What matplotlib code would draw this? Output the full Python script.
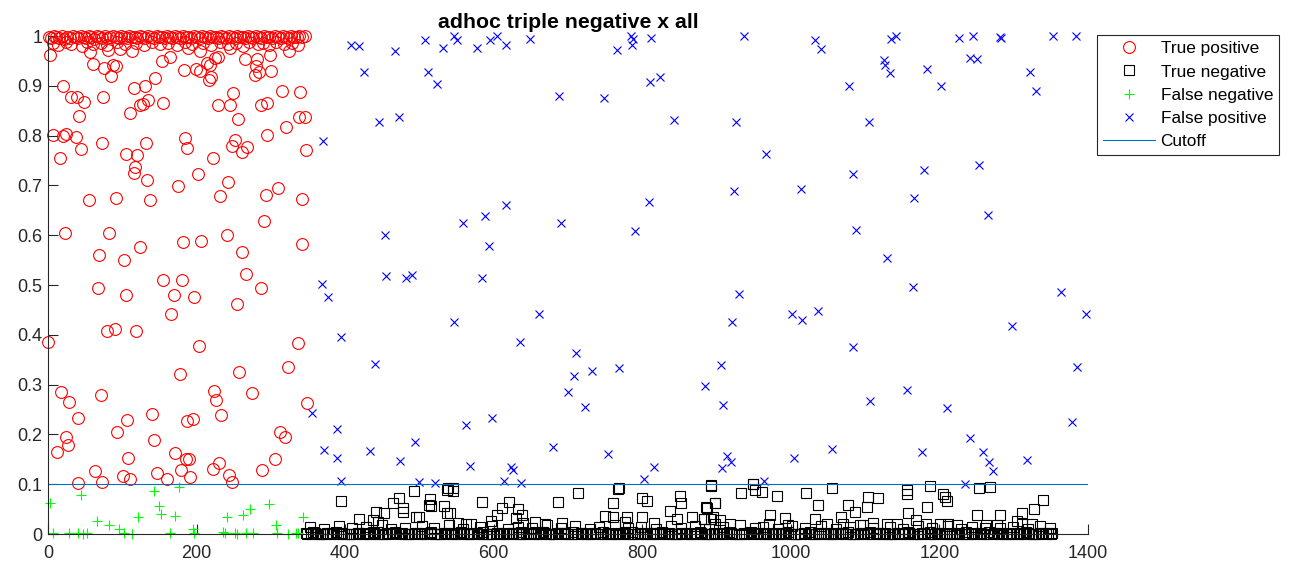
import matplotlib
matplotlib.use("Agg")
import matplotlib.pyplot as plt

plt.rcParams['font.family'] = ['Liberation Sans', 'DejaVu Sans']

# True positive (red circles): scattered ones
tp_x = [2.7, 20.6, 7, 20.6, 24, 37.7, 16, 45, 30.5, 38.6, 48.5, 42, 61, 56.5, 75.4, 84.8, 88, 91,
        74.5, 73, 81, 97, 112.6, 110, 115.8, 130.6, 144, 124, 128, 135, 155, 105, 119.4, 117, 116,
        132, 133.7, 153, 164, 175.4, 184.4, 186.7, 183, 199, 204.6, 202, 189, 204.6, 213.6, 218,
        217, 220, 225, 229, 221.7, 231.5, 228.4, 245, 249.5, 256, 245, 247, 251.7, 260.7, 268,
        242.7, 265, 281, 280, 284.5, 278.6, 299, 300, 294.4, 286, 295, 310, 314.6, 320, 325, 339,
        338, 346, 347, 293, 341.5,
        55.6, 91, 137, 22.9, 82.5, 240.5, 291, 181, 206, 341.5, 68.6, 102.7, 124, 261, 266.5,
        154.4, 180, 67.7, 286, 104.6, 170, 196.5, 254, 165, 79, 90, 118.5, 0.4, 203.7, 337,
        177.7, 257.5, 322.6, 17, 28.7, 71.3, 224, 226, 274, 349, 40.8, 139.6, 106, 186.7, 194.7,
        232.9, 93.3, 24.2, 26.5, 11.7, 142.7, 312, 319, 108, 171, 185.8, 189.8, 230, 221.7, 305.6,
        63, 146.3, 179, 100.5, 110.4, 40.8, 72.3, 160.6, 191, 243.6, 248, 288.5]
tp_y = [0.962, 0.900, 0.801, 0.800, 0.803, 0.797, 0.756, 0.773, 0.878, 0.878, 0.867, 0.839, 0.944,
        0.967, 0.936, 0.920, 0.942, 0.940, 0.877, 0.786, 0.972, 0.974, 0.969, 0.845, 0.896, 0.900,
        0.915, 0.861, 0.863, 0.871, 0.866, 0.764, 0.762, 0.737, 0.725, 0.786, 0.711, 0.949, 0.958,
        0.699, 0.795, 0.776, 0.932, 0.933, 0.930, 0.722, 0.975, 0.969, 0.945, 0.942, 0.912, 0.918,
        0.955, 0.958, 0.756, 0.679, 0.861, 0.861, 0.885, 0.833, 0.975, 0.779, 0.791, 0.768, 0.778,
        0.706, 0.953, 0.953, 0.940, 0.928, 0.922, 0.962, 0.930, 0.801, 0.861, 0.866, 0.694, 0.890,
        0.817, 0.969, 0.888, 0.838, 0.838, 0.772, 0.681, 0.673,
        0.671, 0.674, 0.671, 0.604, 0.605, 0.600, 0.628, 0.587, 0.588, 0.582, 0.560, 0.550, 0.576,
        0.566, 0.522, 0.511, 0.510, 0.495, 0.495, 0.480, 0.479, 0.476, 0.462, 0.442, 0.408, 0.411,
        0.408, 0.385, 0.378, 0.383,
        0.321, 0.326, 0.335, 0.285, 0.266, 0.279, 0.287, 0.269, 0.284, 0.264, 0.232, 0.241, 0.228,
        0.227, 0.230, 0.239, 0.205, 0.194, 0.179, 0.165, 0.189, 0.205, 0.194, 0.152, 0.162, 0.150,
        0.151, 0.142, 0.131, 0.151, 0.127, 0.122, 0.129, 0.116, 0.110, 0.102, 0.105, 0.110, 0.114,
        0.118, 0.105, 0.128]

# True positive: the packed row near 1
tp_top_x = [1, 4, 8, 11, 15, 19, 22, 26, 29, 33, 37, 40, 44, 48, 51, 55, 58, 62, 66, 69, 73, 77,
            80, 84, 88, 91, 95, 98, 102, 106, 109, 113, 117, 120, 124, 127, 131, 135, 138, 142,
            146, 149, 153, 157, 160, 164, 167, 171, 175, 178, 182, 186, 189, 193, 196, 200, 204,
            207, 211, 215, 218, 222, 226, 229, 233, 236, 240, 244, 247, 251, 255, 258, 262, 265,
            269, 273, 276, 280, 284, 287, 291, 295, 298, 302, 305, 309, 313, 316, 320, 324, 327,
            331, 335, 338, 342, 346,
            6, 13, 24, 31, 46, 53, 60, 71, 79, 93, 104, 118, 129, 140, 151, 162, 173, 184, 194,
            209, 220, 231, 242, 253, 263, 271, 282, 289, 297, 307, 318, 329, 336]
tp_top_y = [0.999, 0.996, 1.0, 0.998, 0.997, 1.0, 0.995, 0.999, 0.997, 1.0, 0.998, 0.996, 1.0,
            0.999, 0.997, 1.0, 0.998, 0.995, 1.0, 0.999, 0.997, 1.0, 0.996, 0.999, 1.0, 0.998,
            0.997, 1.0, 0.999, 0.996, 1.0, 0.998, 0.999, 0.997, 1.0, 0.998, 0.996, 1.0, 0.999,
            0.997, 1.0, 0.998, 0.999, 0.996, 1.0, 0.998, 0.997, 1.0, 0.999, 0.996, 1.0, 0.998,
            0.999, 0.997, 1.0, 0.998, 0.996, 1.0, 0.999, 0.997, 1.0, 0.998, 0.999, 0.996, 1.0,
            0.998, 0.997, 1.0, 0.999, 0.996, 1.0, 0.998, 0.999, 0.997, 1.0, 0.998, 0.996, 1.0,
            0.999, 0.997, 1.0, 0.998, 0.999, 0.996, 1.0, 0.998, 0.997, 1.0, 0.999, 0.996, 1.0,
            0.998, 0.999, 1.0, 0.999, 1.0,
            0.986, 0.982, 0.988, 0.984, 0.980, 0.987, 0.983, 0.985, 0.981, 0.988, 0.984, 0.986,
            0.982, 0.987, 0.983, 0.985, 0.981, 0.988, 0.984, 0.986, 0.982, 0.987, 0.983, 0.985,
            0.980, 0.988, 0.984, 0.986, 0.982, 0.987, 0.983, 0.985, 0.981]

# False negative (green plus)
fn_x = [2.7, 44, 142.7, 176, 150, 152, 171, 120.7, 65.5, 82.6, 96, 195.6, 240.5, 263, 272, 297.5,
        306.5, 343.7, 7.2, 28.7, 40.8, 47.5, 52.9, 102.7, 112.6, 164.2, 197, 235, 238.3, 251.7,
        254, 266.5, 275.5, 307.8, 322.6, 333.4, 336]
fn_y = [0.063, 0.078, 0.086, 0.094, 0.057, 0.040, 0.037, 0.035, 0.026, 0.018, 0.011, 0.011,
        0.035, 0.038, 0.050, 0.060, 0.019, 0.035, 0.002, 0.003, 0.002, 0.001, 0.003, 0.002,
        0.001, 0.003, 0.002, 0.004, 0.002, 0.003, 0.001, 0.002, 0.003, 0.002, 0.001, 0.003, 0.002]

# False positive (blue x)
fp_x = [408, 418, 467, 507.5, 531, 547, 550, 578, 595, 604, 616.5, 649, 765.5, 784.8, 786.5, 788,
        811.7, 425, 512, 524, 810, 824, 688, 749, 446, 473, 843, 453.6, 558, 588, 617, 690.5, 809,
        790, 594, 455, 481.5, 489.5, 583.8, 370.6, 369, 376.5, 395, 355.8, 388.6, 371.5, 388.6,
        394, 546.5, 661, 440, 635, 710.7, 708.5, 732, 768, 700, 722.8, 884, 562, 597, 433, 494.4,
        474, 680, 754, 568, 623, 625.5, 816, 802, 499.4, 521, 614, 636,
        937, 1032, 1040, 1135, 1142, 1226, 1245.5, 1281.5, 1283, 1353, 1384, 1125, 1127, 1133.4,
        1183, 1241, 1251, 1322, 1330, 1078, 1202, 926, 1105, 967, 1084, 1179.6, 1253, 924, 1013,
        1166, 1265, 1087, 1130, 930, 1164, 1364, 1397, 1001, 1014.5, 1037, 921, 1298, 1083, 906,
        1385.6, 909, 1106.5, 1156, 1209.7, 1379, 1241, 1055, 1004, 1177, 1259, 1267, 1272, 1318,
        913.5, 920, 907, 964, 1234]
fp_y = [0.982, 0.979, 0.970, 0.993, 0.975, 1.0, 0.993, 0.975, 0.991, 1.0, 0.982, 0.995, 0.972,
        1.0, 0.982, 0.995, 0.997, 0.927, 0.927, 0.903, 0.907, 0.918, 0.880, 0.875, 0.828, 0.837,
        0.832, 0.600, 0.625, 0.639, 0.661, 0.624, 0.667, 0.608, 0.579, 0.519, 0.515, 0.520, 0.515,
        0.790, 0.502, 0.475, 0.396, 0.242, 0.210, 0.169, 0.152, 0.107, 0.426, 0.441, 0.341, 0.385,
        0.363, 0.317, 0.327, 0.333, 0.286, 0.256, 0.297, 0.219, 0.232, 0.167, 0.185, 0.147, 0.175,
        0.161, 0.137, 0.135, 0.129, 0.135, 0.110, 0.105, 0.102, 0.106, 0.103,
        1.0, 0.992, 0.973, 0.994, 1.0, 0.997, 1.0, 0.999, 0.997, 1.0, 1.0, 0.952, 0.942, 0.925,
        0.933, 0.956, 0.953, 0.928, 0.890, 0.900, 0.900, 0.828, 0.828, 0.763, 0.722, 0.730, 0.740,
        0.689, 0.692, 0.675, 0.641, 0.610, 0.554, 0.481, 0.497, 0.485, 0.441, 0.442, 0.430, 0.448,
        0.425, 0.418, 0.376, 0.339, 0.336, 0.259, 0.268, 0.289, 0.254, 0.224, 0.192, 0.171, 0.152,
        0.165, 0.165, 0.145, 0.127, 0.149, 0.157, 0.144, 0.132, 0.107, 0.100]

# True negative (black squares): scattered ones above the floor
tn_x = [395, 492.7, 472.5, 464, 514, 513, 515, 536.6, 544.8, 533.5, 537.5, 541, 441.5, 452.7,
        418.6, 438, 444.6, 478, 477.5, 495.4, 499, 583.7, 620.5, 610.7, 632, 604, 596, 630, 637.6,
        640, 655.5, 669, 687, 691.5, 714, 767.7, 760, 799, 806, 750, 760, 779, 777, 799, 815.7,
        850.7, 851.6, 837, 846, 866.5, 883, 886.6, 894.7, 898, 892.5, 562.6, 570, 552.3,
        949.4, 951.7, 960.7, 932.4, 981, 1020, 1055, 885.7, 897.8, 1036, 971.8, 992, 883, 893,
        904.5, 897.8, 918, 970, 996.5, 1032.5, 1077, 1086, 1068, 1104, 1117.7, 1102, 1048, 1070.6,
        1097.5, 1110, 1129, 1142.5, 1156.7, 1155.8, 1187, 1158, 1169, 1183, 1205, 1207.5, 1209.7,
        1182, 1201, 1212, 1223, 1253.6, 1268, 1250, 1281.5, 1310.6, 1327.6, 1339.8, 1261, 1277,
        1304, 1310.6, 1324, 893, 949, 539, 545.6, 768]
tn_y = [0.066, 0.087, 0.072, 0.062, 0.070, 0.058, 0.056, 0.088, 0.087, 0.056, 0.042, 0.042,
        0.044, 0.042, 0.030, 0.028, 0.025, 0.045, 0.052, 0.035, 0.035, 0.065, 0.065, 0.053, 0.050,
        0.038, 0.027, 0.033, 0.038, 0.023, 0.025, 0.021, 0.065, 0.023, 0.083, 0.090, 0.063, 0.073,
        0.067, 0.037, 0.035, 0.035, 0.025, 0.034, 0.023, 0.077, 0.062, 0.047, 0.030, 0.035, 0.030,
        0.053, 0.034, 0.062, 0.096, 0.021, 0.020, 0.023,
        0.100, 0.088, 0.085, 0.083, 0.077, 0.082, 0.092, 0.054, 0.062, 0.058, 0.038, 0.033, 0.031,
        0.031, 0.028, 0.021, 0.020, 0.021, 0.018, 0.031, 0.058, 0.045, 0.035, 0.074, 0.072, 0.055,
        0.020, 0.020, 0.018, 0.022, 0.020, 0.020, 0.088, 0.080, 0.096, 0.043, 0.028, 0.054, 0.080,
        0.074, 0.067, 0.020, 0.020, 0.020, 0.018, 0.092, 0.094, 0.038, 0.038, 0.042, 0.050, 0.068,
        0.013, 0.018, 0.026, 0.020, 0.021, 0.098, 0.101, 0.092, 0.092, 0.092]

# True negative: the second layer just above the floor
tn_low_x = [352, 371, 391, 409, 428, 449, 462, 481, 503, 519, 540, 559, 581, 598, 619, 633, 651,
            672, 690, 709, 729, 742, 763, 781, 798, 819, 839, 852, 871, 890, 909, 931, 951, 963,
            983, 1001, 1019, 1040, 1061, 1079, 1093, 1111, 1134, 1151, 1171, 1190, 1211, 1229,
            1244, 1262, 1281, 1299, 1319, 1335, 1349]
tn_low_y = [0.014, 0.011, 0.017, 0.012, 0.015, 0.019, 0.010, 0.013, 0.016, 0.012, 0.018, 0.011,
            0.014, 0.017, 0.010, 0.015, 0.012, 0.019, 0.013, 0.016, 0.011, 0.014, 0.018, 0.012,
            0.015, 0.010, 0.017, 0.013, 0.016, 0.011, 0.014, 0.019, 0.012, 0.015, 0.010, 0.017,
            0.013, 0.016, 0.011, 0.014, 0.018, 0.012, 0.015, 0.010, 0.017, 0.013, 0.016, 0.011,
            0.014, 0.019, 0.012, 0.015, 0.010, 0.017, 0.013]

# True negative: the packed floor (scores at about zero)
tn_floor_x = [347, 357, 366, 376, 387, 396, 406, 417, 426, 437, 446, 456, 467, 476, 486, 497, 506,
              516, 527, 536, 547, 556, 566, 577, 586, 596, 607, 616, 626, 637, 646, 657, 666, 676,
              687, 696, 706, 717, 726, 736, 747, 756, 767, 776, 786, 797, 806, 816, 827, 836, 846,
              857, 866, 877, 886, 896, 907, 916, 926, 937, 946, 956, 967, 976, 987, 996, 1006,
              1017, 1026, 1036, 1047, 1056, 1066, 1077, 1086, 1097, 1106, 1116, 1127, 1136, 1146,
              1157, 1166, 1176, 1187, 1196, 1206, 1217, 1226, 1236, 1247, 1256, 1266, 1277, 1286,
              1296, 1307, 1316, 1326, 1337, 1346, 1352]
tn_floor_y = [0.002, 0.004, 0.001, 0.003, 0.004, 0.002, 0.000, 0.003, 0.002, 0.004, 0.001, 0.003,
              0.004, 0.002, 0.000, 0.003, 0.002, 0.004, 0.001, 0.003, 0.002, 0.004, 0.000, 0.003,
              0.004, 0.001, 0.003, 0.002, 0.003, 0.004, 0.000, 0.002, 0.004, 0.001, 0.003, 0.002,
              0.004, 0.003, 0.000, 0.003, 0.004, 0.001, 0.003, 0.002, 0.004, 0.003, 0.000, 0.003,
              0.004, 0.002, 0.001, 0.003, 0.002, 0.004, 0.000, 0.003, 0.002, 0.004, 0.001, 0.003,
              0.004, 0.002, 0.003, 0.000, 0.003, 0.004, 0.001, 0.003, 0.004, 0.002, 0.003, 0.000,
              0.003, 0.004, 0.001, 0.003, 0.004, 0.002, 0.003, 0.000, 0.003, 0.004, 0.001, 0.003,
              0.004, 0.002, 0.003, 0.000, 0.003, 0.004, 0.001, 0.003, 0.004, 0.002, 0.003, 0.000,
              0.003, 0.004, 0.001, 0.003, 0.003, 0.002]
tn_zero_x = [349, 354, 359, 364, 369, 374, 379, 384, 390, 394, 399, 404,
             409, 414, 419, 424, 429, 434, 439, 444, 450, 454, 459, 464,
             469, 474, 479, 484, 489, 494, 499, 504, 510, 514, 519, 524,
             529, 534, 539, 544, 549, 554, 559, 564, 570, 574, 579, 584,
             589, 594, 599, 604, 609, 614, 619, 624, 630, 634, 639, 644,
             649, 654, 659, 664, 669, 674, 679, 684, 690, 694, 699, 704,
             709, 714, 719, 724, 729, 734, 739, 744, 750, 754, 759, 764,
             769, 774, 779, 784, 789, 794, 799, 804, 810, 814, 819, 824,
             829, 834, 839, 844, 849, 854, 859, 864, 870, 874, 879, 884,
             889, 894, 899, 904, 909, 914, 919, 924, 930, 934, 939, 944,
             949, 954, 959, 964, 969, 974, 979, 984, 990, 994, 999, 1004,
             1009, 1014, 1019, 1024, 1029, 1034, 1039, 1044, 1050, 1054, 1059, 1064,
             1069, 1074, 1079, 1084, 1089, 1094, 1099, 1104, 1110, 1114, 1119, 1124,
             1129, 1134, 1139, 1144, 1149, 1154, 1159, 1164, 1170, 1174, 1179, 1184,
             1189, 1194, 1199, 1204, 1209, 1214, 1219, 1224, 1230, 1234, 1239, 1244,
             1249, 1254, 1259, 1264, 1269, 1274, 1279, 1284, 1290, 1294, 1299, 1304,
             1309, 1314, 1319, 1324, 1329, 1334, 1339, 1344, 1350]
tn_zero_y = [0.001, 0.000, 0.002, 0.001, 0.000, 0.000, 0.002, 0.001, 0.000, 0.002, 0.001, 0.000,
             0.000, 0.001, 0.002, 0.000, 0.001, 0.000, 0.002, 0.001, 0.000, 0.001, 0.000, 0.002,
             0.002, 0.000, 0.001, 0.000, 0.001, 0.002, 0.000, 0.000, 0.001, 0.002, 0.000, 0.001,
             0.001, 0.002, 0.000, 0.001, 0.000, 0.000, 0.002, 0.001, 0.000, 0.002, 0.001, 0.000,
             0.000, 0.001, 0.000, 0.002, 0.001, 0.000, 0.001, 0.002, 0.000, 0.001, 0.000, 0.002,
             0.002, 0.000, 0.001, 0.000, 0.002, 0.001, 0.000, 0.001, 0.002, 0.000, 0.001, 0.000,
             0.001, 0.000, 0.002, 0.001, 0.000, 0.002, 0.000, 0.001, 0.000, 0.002, 0.001, 0.000,
             0.000, 0.002, 0.001, 0.000, 0.001, 0.000, 0.002, 0.000, 0.001, 0.002, 0.000, 0.001,
             0.002, 0.001, 0.000, 0.000, 0.001, 0.002, 0.000, 0.001, 0.000, 0.001, 0.002, 0.000,
             0.000, 0.000, 0.001, 0.002, 0.000, 0.001, 0.002, 0.000, 0.001, 0.000, 0.000, 0.002,
             0.001, 0.002, 0.000, 0.000, 0.001, 0.000, 0.002, 0.001, 0.000, 0.002, 0.001, 0.000,
             0.000, 0.001, 0.002, 0.000, 0.000, 0.001, 0.000, 0.002, 0.001, 0.000, 0.002, 0.001,
             0.002, 0.000, 0.001, 0.000, 0.001, 0.002, 0.000, 0.000, 0.001, 0.002, 0.000, 0.001,
             0.000, 0.001, 0.000, 0.002, 0.000, 0.001, 0.002, 0.000, 0.001, 0.000, 0.002, 0.001,
             0.001, 0.000, 0.002, 0.001, 0.000, 0.000, 0.002, 0.001, 0.000, 0.001, 0.000, 0.002,
             0.000, 0.002, 0.001, 0.000, 0.001, 0.002, 0.000, 0.001, 0.000, 0.000, 0.002, 0.001,
             0.001, 0.000, 0.002, 0.000, 0.001, 0.000, 0.002, 0.001, 0.000]

cutoff_x = [0, 1400]
cutoff_y = [0.1, 0.1]

x_ticks = [0, 200, 400, 600, 800, 1000, 1200, 1400]
y_ticks = [0, 0.1, 0.2, 0.3, 0.4, 0.5, 0.6, 0.7, 0.8, 0.9, 1]
y_tick_labels = ['0', '0.1', '0.2', '0.3', '0.4', '0.5', '0.6', '0.7', '0.8', '0.9', '1']

grey = '#262626'

fig = plt.figure(figsize=(12.95, 5.69), dpi=100)
ax = fig.add_axes([0.0371, 0.0615, 0.8031, 0.8752])

ax.plot(tp_x + tp_top_x, tp_y + tp_top_y, 'o', color='#ff0000', mfc='none', ms=8.5, mew=0.8,
        clip_on=False, label='True positive')
ax.plot(tn_zero_x + tn_floor_x + tn_low_x + tn_x, tn_zero_y + tn_floor_y + tn_low_y + tn_y, 's',
        color='black', mfc='none', ms=6.5, mew=0.8, clip_on=False, label='True negative')
ax.plot(fn_x, fn_y, '+', color='#00ff00', ms=7.5, mew=0.8, clip_on=False, label='False negative')
ax.plot(fp_x, fp_y, 'x', color='#0000ff', ms=6, mew=0.8, clip_on=False, label='False positive')
ax.plot(cutoff_x, cutoff_y, '-', color='#0072bd', lw=0.8, label='Cutoff')

ax.set_xlim(0, 1400)
ax.set_ylim(0, 1)
ax.set_xticks(x_ticks)
ax.set_yticks(y_ticks)
ax.set_yticklabels(y_tick_labels)
ax.tick_params(direction='in', length=7, width=0.8, colors=grey, labelsize=13)
ax.tick_params(axis='x', pad=8)
ax.tick_params(axis='y', pad=4)
for s in ['top', 'right']:
    ax.spines[s].set_visible(False)
for s in ['left', 'bottom']:
    ax.spines[s].set_color(grey)
    ax.spines[s].set_linewidth(0.8)

ax.set_title('adhoc triple negative x all', fontsize=15.3, fontweight='bold', pad=6)

leg = ax.legend(loc='upper left', bbox_to_anchor=(0.847, 0.938), bbox_transform=fig.transFigure,
                fontsize=12.4, frameon=True, fancybox=False, framealpha=1, edgecolor=grey,
                handlelength=3.0, handletextpad=0.35, labelspacing=0.47, borderaxespad=0,
                borderpad=0.35)
leg.get_frame().set_linewidth(0.8)

fig.savefig('out.png', dpi=100)
